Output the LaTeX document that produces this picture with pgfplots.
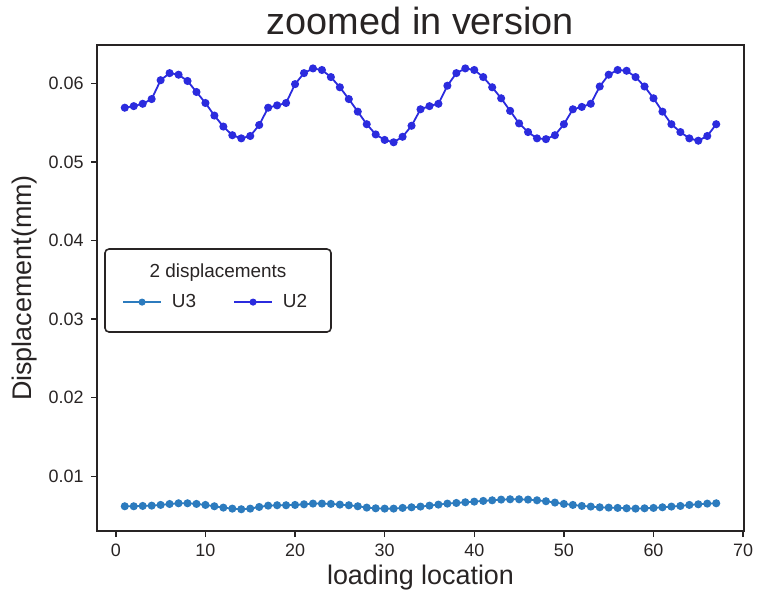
\documentclass[border=0pt]{standalone}
\usepackage{pgfplots}
\pgfplotsset{compat=1.18}
\usepackage{pgfplotstable}
\usepackage{fontspec}
\setmainfont{Liberation Sans}
\definecolor{uthree}{RGB}{44,123,190}
\definecolor{utwo}{RGB}{43,43,222}
\definecolor{axisgray}{RGB}{40,36,36}
\pgfplotstableread{
x y
1 0.0569
2 0.0571
3 0.0574
4 0.0580
5 0.0604
6 0.0613
7 0.0611
8 0.0603
9 0.0589
10 0.0575
11 0.0559
12 0.0545
13 0.0534
14 0.0530
15 0.0533
16 0.0547
17 0.0569
18 0.0572
19 0.0575
20 0.0599
21 0.0613
22 0.0619
23 0.0617
24 0.0608
25 0.0595
26 0.0580
27 0.0564
28 0.0548
29 0.0535
30 0.0528
31 0.0525
32 0.0532
33 0.0546
34 0.0567
35 0.0571
36 0.0574
37 0.0597
38 0.0613
39 0.0619
40 0.0617
41 0.0608
42 0.0595
43 0.0581
44 0.0565
45 0.0549
46 0.0538
47 0.0530
48 0.0529
49 0.0534
50 0.0548
51 0.0567
52 0.0570
53 0.0574
54 0.0596
55 0.0611
56 0.0617
57 0.0616
58 0.0608
59 0.0596
60 0.0581
61 0.0564
62 0.0548
63 0.0538
64 0.0530
65 0.0527
66 0.0533
67 0.0548
}\utwotable
\pgfplotstableread{
x y
1 0.00618
2 0.00618
3 0.00622
4 0.00626
5 0.00635
6 0.00647
7 0.00656
8 0.00656
9 0.00648
10 0.00635
11 0.00618
12 0.00601
13 0.00588
14 0.00580
15 0.00588
16 0.00609
17 0.00626
18 0.00631
19 0.00631
20 0.00635
21 0.00643
22 0.00652
23 0.00652
24 0.00648
25 0.00639
26 0.00631
27 0.00618
28 0.00601
29 0.00592
30 0.00588
31 0.00588
32 0.00597
33 0.00605
34 0.00614
35 0.00626
36 0.00639
37 0.00652
38 0.00660
39 0.00669
40 0.00677
41 0.00686
42 0.00694
43 0.00703
44 0.00707
45 0.00707
46 0.00703
47 0.00694
48 0.00682
49 0.00665
50 0.00648
51 0.00635
52 0.00622
53 0.00614
54 0.00605
55 0.00601
56 0.00597
57 0.00592
58 0.00588
59 0.00592
60 0.00597
61 0.00605
62 0.00614
63 0.00622
64 0.00635
65 0.00643
66 0.00652
67 0.00656
}\uthreetable
\begin{document}
\begin{tikzpicture}
\begin{axis}[
  scale only axis, width=647bp, height=486bp,
  xmin=-2.1, xmax=70.1, ymin=0.00303, ymax=0.06488,
  scaled y ticks=false, scaled x ticks=false,
  xtick={0,10,20,30,40,50,60,70},
  xticklabels={0,10,20,30,40,50,60,70},
  ytick={0.01,0.02,0.03,0.04,0.05,0.06},
  yticklabels={0.01,0.02,0.03,0.04,0.05,0.06},
  tick align=outside, tick pos=left, major tick length=6bp,
  axis line style={line width=1.6bp, color=axisgray},
  every tick/.style={line width=1.4bp, color=axisgray},
  tick label style={font=\fontsize{18}{18}\selectfont, color=axisgray},
  yticklabel style={xshift=-4bp},
  xticklabel style={yshift=-3bp},
  xlabel={loading location}, ylabel={Displacement(mm)},
  label style={font=\fontsize{27}{27}\selectfont, color=axisgray},
  xlabel style={at={(axis description cs:0.5,-0.0967)}, anchor=center},
  ylabel style={at={(axis description cs:-0.1113,0.5)}, anchor=center},
  title={zoomed in version},
  title style={at={(axis description cs:0.5,1.0103)}, anchor=base, font=\fontsize{38}{38}\selectfont, color=axisgray},
  legend columns=2,
  legend style={at={(axis description cs:0.0386,0.471)}, anchor=west, draw=none, fill=none, inner sep=0pt, font=\fontsize{19}{19}\selectfont, text=axisgray, /tikz/every even column/.append style={column sep=35bp}},
  legend image code/.code={\draw[mark repeat=2, mark phase=2, #1, mark size=2.6bp] plot coordinates {(0bp,0bp) (19bp,0bp) (38bp,0bp)};},
]
\addplot[color=uthree, line width=1.8bp, mark=*, mark size=3.1bp, mark options={solid}] table[x=x,y=y] {\uthreetable};
\addlegendentry{\hspace{8bp}U3}
\addplot[color=utwo, line width=1.8bp, mark=*, mark size=3.1bp, mark options={solid}] table[x=x,y=y] {\utwotable};
\addlegendentry{\hspace{8bp}U2}
\draw[axisgray, line width=1.6bp, rounded corners=4bp] (rel axis cs:0.01236,0.5802) rectangle (rel axis cs:0.3617,0.4095);
\node[text=axisgray, font=\fontsize{19}{19}\selectfont, anchor=center] at (rel axis cs:0.187,0.5309) {2 displacements};
\end{axis}
\path (current axis.south west) ++(-97bp,-65bp);
\path (current axis.north east) ++(15bp,45bp);
\end{tikzpicture}
\end{document}
